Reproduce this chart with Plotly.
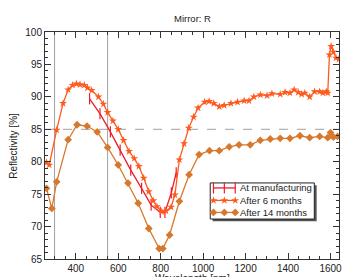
import plotly.graph_objects as go

# At manufacturing
man_x = [465, 514, 563, 609, 659, 710, 755, 798, 820, 850, 873]
man_y = [89.7, 87.4, 84.6, 81.8, 78.7, 75.9, 73.3, 72.2, 72.2, 75.2, 78.3]

# After 6 months
m6_x = [262, 275, 310, 340, 364, 385, 403, 420, 440, 455, 475, 507, 530, 550, 575, 600,
        625, 651, 675, 697, 720, 744, 765, 782, 805, 825, 849, 867, 888, 910, 932, 955,
        976, 1007, 1028, 1050, 1076, 1099, 1131, 1162, 1193, 1216, 1239, 1270, 1301,
        1324, 1363, 1386, 1409, 1429, 1448, 1464, 1479, 1502, 1525, 1549, 1564, 1580,
        1587, 1595, 1603, 1614, 1626, 1640]
m6_y = [79.9, 79.5, 84.9, 89.0, 91.1, 91.8, 92.0, 91.9, 91.8, 91.4, 91.0, 90.0, 88.9, 87.6,
        86.3, 85.0, 83.3, 81.6, 80.5, 79.3, 77.5, 75.4, 74.0, 73.1, 72.3, 72.4, 73.0, 74.9,
        80.3, 82.8, 85.2, 86.9, 88.3, 89.2, 89.3, 89.0, 88.5, 88.7, 89.0, 89.2, 89.4, 89.4,
        90.0, 90.3, 90.2, 90.5, 90.4, 90.7, 90.6, 91.1, 90.7, 90.4, 90.6, 90.0, 90.8, 90.8,
        90.6, 90.8, 90.6, 96.5, 97.8, 96.9, 96.0, 95.8]

# After 14 months
m14_x = [262, 287, 310, 364, 406, 453, 501, 550, 600, 646, 694, 744, 793, 810, 842, 888,
         934, 981, 1030, 1076, 1123, 1169, 1222, 1269, 1316, 1363, 1409, 1456, 1502, 1549,
         1587, 1600, 1614, 1633]
m14_y = [75.9, 72.8, 76.9, 83.4, 85.7, 85.5, 84.6, 82.2, 79.5, 76.7, 73.6, 69.7, 66.6, 66.6,
         68.7, 73.9, 78.0, 81.1, 81.7, 81.7, 82.3, 82.6, 82.6, 83.3, 83.5, 83.6, 83.6, 84.0,
         83.7, 83.9, 83.7, 84.5, 83.8, 83.9]

series_names = ["At manufacturing", "After 6 months", "After 14 months"]
title_text = "Mirror: R"

x_ticks = [400, 600, 800, 1000, 1200, 1400, 1600]
y_ticks = [65, 70, 75, 80, 85, 90, 95, 100]
x_range = [255, 1640]
y_range = [65, 100]
ref_lines_x = [300, 550]
ref_line_y = 85

FONT = "Liberation Sans, Arial, sans-serif"
C_MAN = "#ee1c2a"
C_6 = "#ff5a1e"
C_14 = "#d8782c"

styles = [
    dict(line=dict(color=C_MAN, width=1.3),
         marker=dict(symbol="line-ns", size=8, line=dict(color=C_MAN, width=1.2))),
    dict(line=dict(color=C_6, width=1.3),
         marker=dict(symbol="star", size=6, color=C_6, line=dict(width=0))),
    dict(line=dict(color=C_14, width=1.3),
         marker=dict(symbol="diamond", size=6, color=C_14, line=dict(width=0))),
]

fig = go.Figure()
for (xs, ys), name, st in zip([(man_x, man_y), (m6_x, m6_y), (m14_x, m14_y)], series_names, styles):
    fig.add_trace(go.Scatter(x=xs, y=ys, mode="lines+markers", name=name,
                             showlegend=False, **st))

# compact legend like the original, drawn on an overlay axis spanning [0,1]
leg_x0, leg_x1 = 0.562, 0.916
leg_top, leg_bot = 0.335, 0.176
sh_dx, sh_dy = 0.008, 0.01
row_y = [0.313, 0.258, 0.205]
samp_x = [0.573, 0.61, 0.647]
text_x = 0.656

fig.add_trace(go.Scatter(
    x=[leg_x0 + sh_dx, leg_x1 + sh_dx, leg_x1 + sh_dx, leg_x0 + sh_dx, leg_x0 + sh_dx],
    y=[leg_bot - sh_dy, leg_bot - sh_dy, leg_top - sh_dy, leg_top - sh_dy, leg_bot - sh_dy],
    mode="lines", fill="toself", fillcolor="#555", line=dict(width=0, color="#555"),
    xaxis="x2", yaxis="y2", showlegend=False, hoverinfo="skip"))
fig.add_trace(go.Scatter(
    x=[leg_x0, leg_x1, leg_x1, leg_x0, leg_x0],
    y=[leg_bot, leg_bot, leg_top, leg_top, leg_bot],
    mode="lines", fill="toself", fillcolor="white", line=dict(width=1, color="#222"),
    xaxis="x2", yaxis="y2", showlegend=False, hoverinfo="skip"))
for name, st, ry in zip(series_names, styles, row_y):
    fig.add_trace(go.Scatter(x=samp_x, y=[ry] * 3, mode="lines+markers", xaxis="x2", yaxis="y2",
                             showlegend=False, hoverinfo="skip", **st))

shapes = []
for xv in ref_lines_x:
    shapes.append(dict(type="line", xref="x", yref="paper", x0=xv, x1=xv, y0=0, y1=1,
                       line=dict(color="#a0a0a0", width=1), layer="below"))
shapes.append(dict(type="line", xref="paper", yref="y", x0=0, x1=1, y0=ref_line_y, y1=ref_line_y,
                   line=dict(color="#a0a0a0", width=1, dash="dash"), layer="below"))

annotations = [
    dict(text=title_text, xref="paper", yref="paper", x=0.5, y=1.0,
         xanchor="center", yanchor="bottom", yshift=6, showarrow=False,
         font=dict(size=9.5, color="#222")),
    dict(text="Wavelength [nm]", xref="paper", yref="paper", x=0.5, y=-0.052,
         xanchor="center", yanchor="top", showarrow=False, font=dict(size=10, color="#222")),
    dict(text="Reflectivity [%]", xref="paper", yref="paper", x=-0.108, y=0.5,
         xanchor="center", yanchor="middle", textangle=-90, showarrow=False,
         font=dict(size=10, color="#222")),
]
for name, ry in zip(series_names, row_y):
    annotations.append(dict(text=name, xref="paper", yref="paper", x=text_x, y=ry,
                            xanchor="left", yanchor="middle", showarrow=False,
                            font=dict(size=9.5, color="#222")))

axis_common = dict(showgrid=False, zeroline=False, showline=True, linecolor="#333", linewidth=1,
                   mirror="ticks", ticks="inside", ticklen=6, tickcolor="#333",
                   tickfont=dict(size=10, color="#222"), ticklabeloverflow="allow")

fig.update_layout(
    width=342, height=277,
    margin=dict(l=45, r=0, t=32, b=18),
    paper_bgcolor="white", plot_bgcolor="white",
    font=dict(family=FONT, size=10, color="#222"),
    shapes=shapes,
    annotations=annotations,
    showlegend=False,
    xaxis=dict(range=x_range, tickvals=x_ticks, ticktext=[str(v) for v in x_ticks],
               minor=dict(dtick=50, tick0=0, ticks="inside", ticklen=3, tickcolor="#333",
                          showgrid=False), **axis_common),
    yaxis=dict(range=y_range, tickvals=y_ticks, ticktext=[str(v) for v in y_ticks],
               minor=dict(dtick=1, tick0=0, ticks="inside", ticklen=3, tickcolor="#333",
                          showgrid=False), **axis_common),
    xaxis2=dict(overlaying="x", range=[0, 1], visible=False, fixedrange=True),
    yaxis2=dict(overlaying="y", range=[0, 1], visible=False, fixedrange=True),
)

fig.write_html("out.html", config={"displayModeBar": False},
               post_script="document.body.style.margin='0';document.body.style.overflow='hidden';")
